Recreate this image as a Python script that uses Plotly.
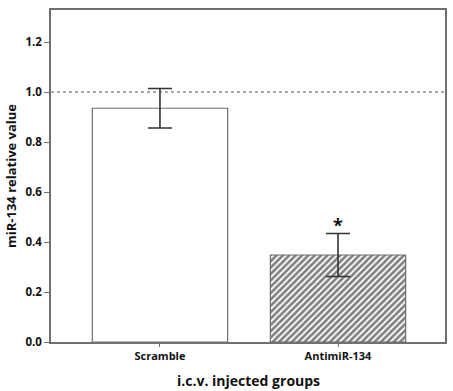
import plotly.graph_objects as go

groups = ["Scramble", "AntimiR-134"]
values = [0.935, 0.348]
errors = [0.079, 0.086]
sig_labels = ["", "*"]
reference_level = 1.0
x_title = "i.c.v. injected groups"
y_title = "miR-134 relative value"

font_family = "Open Sans, Liberation Sans, sans-serif"
axis_col = "#707070"

fig = go.Figure()
fig.add_trace(go.Bar(
    x=groups, y=values,
    width=0.76,
    marker=dict(
        color="white",
        line=dict(color=axis_col, width=1.2),
        pattern=dict(shape=["", "/"], fgcolor="#000000", bgcolor="white", size=4.5, solidity=0.6),
    ),
    error_y=dict(type="data", array=errors, visible=True, color="#333333", thickness=1.6, width=12),
    showlegend=False,
))

fig.add_shape(type="line", xref="paper", x0=0, x1=1, yref="y", y0=reference_level, y1=reference_level,
              line=dict(color="#555555", width=1.2, dash="dot"))

for g, v, e, s in zip(groups, values, errors, sig_labels):
    if s:
        fig.add_annotation(x=g, y=v + e, text="<b>" + s + "</b>", showarrow=False,
                           yanchor="bottom", yshift=-5, font=dict(size=18, color="#111111", family=font_family))

fig.add_annotation(xref="paper", yref="paper", x=0.5, y=0, yshift=-38, yanchor="middle",
                   text="<b>" + x_title + "</b>", showarrow=False,
                   font=dict(size=14, color="#111111", family=font_family))

fig.update_layout(
    width=453, height=391,
    margin=dict(l=51, r=8, t=10, b=49),
    plot_bgcolor="white", paper_bgcolor="white",
    font=dict(family=font_family, color="#111111"),
    xaxis=dict(
        range=[-0.612, 1.601],
        showline=True, linecolor=axis_col, linewidth=1.5, mirror=True,
        ticks="outside", ticklen=3, tickcolor=axis_col,
        tickfont=dict(size=11, family=font_family, weight="bold"),
        showgrid=False, automargin=False,
    ),
    yaxis=dict(
        range=[0, 1.328],
        tickvals=[0, 0.2, 0.4, 0.6, 0.8, 1.0, 1.2],
        tickformat=".1f",
        showline=True, linecolor=axis_col, linewidth=1.5, mirror=True,
        ticks="outside", ticklen=5, tickcolor=axis_col,
        tickfont=dict(size=11.5, family=font_family, weight="bold"),
        title=dict(text="<b>" + y_title + "</b>", font=dict(size=13), standoff=6),
        showgrid=False, zeroline=False, automargin=False,
    ),
)

fig.write_html("out.html")
